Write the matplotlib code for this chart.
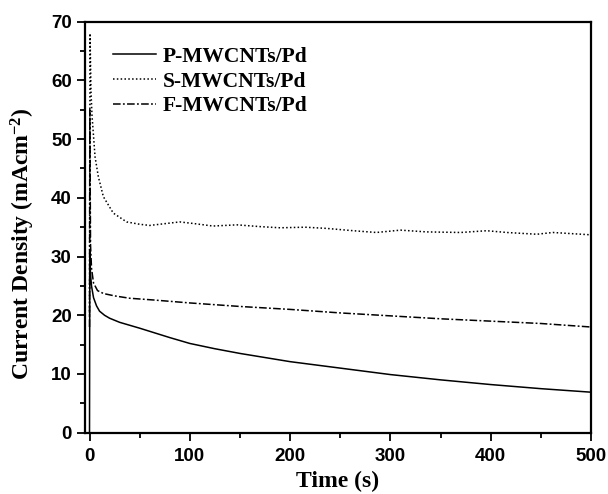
import matplotlib
matplotlib.use("Agg")
import matplotlib.pyplot as plt
from matplotlib.ticker import MultipleLocator

plt.rcParams["mathtext.fontset"] = "custom"
plt.rcParams["mathtext.rm"] = "Liberation Serif:bold"
plt.rcParams["mathtext.it"] = "Liberation Serif:bold"
plt.rcParams["mathtext.bf"] = "Liberation Serif:bold"

# ---- data ----
t_p = [0, 0.3, 1, 2, 4, 7, 10, 15, 20, 30, 40, 50, 65, 80, 100, 125, 150, 175, 200, 250, 300, 350, 400, 450, 500]
j_p = [0, 31, 27, 25, 23, 21.6, 20.7, 20.0, 19.5, 18.8, 18.3, 17.8, 17.0, 16.2, 15.2, 14.3, 13.5, 12.8, 12.1,
       11.0, 9.9, 9.0, 8.2, 7.5, 6.9]

t_s = [0, 0.5, 1.5, 2.5, 3.8, 5.5, 8.8, 13.8, 23.7, 37, 50, 60, 75, 90, 105, 123, 147, 170, 190,
       215, 236, 263, 286, 310, 336, 370, 396, 416, 446, 462, 500]
j_s = [20, 68, 58, 54, 51, 47, 43.6, 40.2, 37.4, 35.9, 35.5, 35.3, 35.6, 35.9, 35.6, 35.2, 35.4, 35.1, 34.9,
       35.0, 34.8, 34.4, 34.1, 34.5, 34.2, 34.1, 34.4, 34.1, 33.8, 34.1, 33.7]

t_f = [0, 0.3, 1, 2, 4, 8, 14, 25, 40, 64, 100, 150, 200, 250, 300, 350, 400, 450, 500]
j_f = [18, 55, 32, 28, 25.5, 24.2, 23.7, 23.3, 22.9, 22.6, 22.1, 21.5, 21.0, 20.4, 19.9, 19.4, 19.0, 18.6, 18.0]

labels = ["P-MWCNTs/Pd", "S-MWCNTs/Pd", "F-MWCNTs/Pd"]
x_ticks = [0, 100, 200, 300, 400, 500]
y_ticks = [0, 10, 20, 30, 40, 50, 60, 70]

fig = plt.figure(figsize=(6.08, 4.94), dpi=100)
ax = fig.add_axes([85/608, 1-432.7/494, (591-85)/608, (432.7-21.7)/494])

lw = 1.1
ax.plot(t_p, j_p, color="black", lw=lw, ls="-", label=labels[0])
ax.plot(t_s, j_s, color="black", lw=lw, ls=(0, (1, 1.5)), label=labels[1])
ax.plot(t_f, j_f, color="black", lw=lw, ls=(0, (5, 1.5, 1.2, 1.5)), label=labels[2])

ax.set_xlim(-4.5, 500)
ax.set_ylim(0, 70)
ax.set_xticks(x_ticks)
ax.set_yticks(y_ticks)
ax.xaxis.set_minor_locator(MultipleLocator(50))
ax.yaxis.set_minor_locator(MultipleLocator(5))
ax.tick_params(which="major", direction="out", length=6, width=1.3, top=False, right=False)
ax.tick_params(axis="x", which="major", pad=5)
ax.tick_params(which="minor", direction="out", length=3.3, width=1.3, top=False, right=False)
for s in ax.spines.values():
    s.set_linewidth(1.6)

for lab in ax.get_xticklabels() + ax.get_yticklabels():
    lab.set_fontfamily("Liberation Sans")
    lab.set_fontweight("bold")
    lab.set_fontsize(13.5)

labfont = dict(family="Liberation Serif", weight="bold", size=17)
ax.set_xlabel("Time (s)", fontdict=labfont, labelpad=4)
ax.set_ylabel("Current Density (mAcm$^{-2}$)", fontdict=labfont)
ax.yaxis.set_label_coords(-0.095, 0.46)

leg = ax.legend(loc="upper left", frameon=False, prop=dict(family="Liberation Serif", weight="bold", size=15.5),
                handlelength=2.0, handletextpad=0.3, labelspacing=0.22, borderaxespad=0.0,
                bbox_to_anchor=(0.038, 0.96))

fig.savefig("out.png", dpi=100)
